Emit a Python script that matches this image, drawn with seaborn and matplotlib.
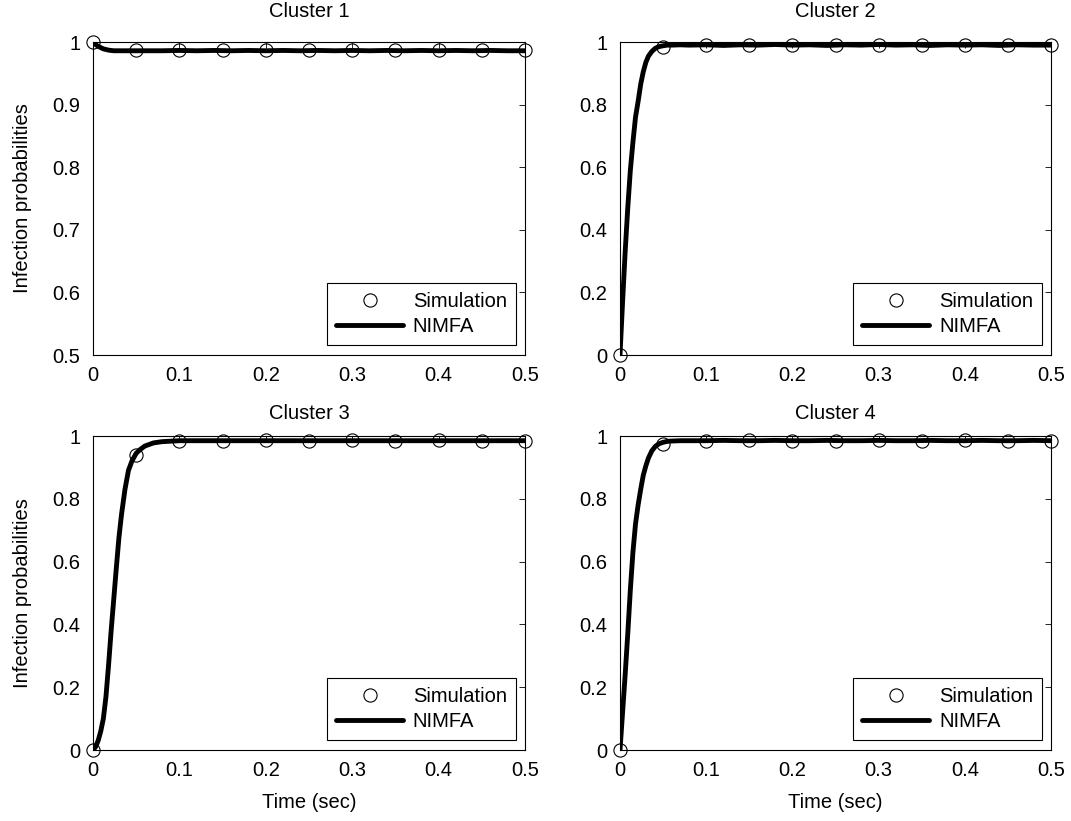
import matplotlib
matplotlib.use("Agg")
import matplotlib.pyplot as plt
import seaborn as sns
from matplotlib.ticker import FuncFormatter

# ---------------- data ----------------
TITLES = ["Cluster 1", "Cluster 2", "Cluster 3", "Cluster 4"]

T_SIM = [0.0, 0.05, 0.10, 0.15, 0.20, 0.25, 0.30, 0.35, 0.40, 0.45, 0.50]
SIM_C1 = [1.000, 0.987, 0.987, 0.988, 0.987, 0.987, 0.988, 0.987, 0.988, 0.987, 0.987]
SIM_C2 = [0.000, 0.985, 0.990, 0.991, 0.991, 0.990, 0.991, 0.990, 0.991, 0.990, 0.990]
SIM_C3 = [0.000, 0.940, 0.985, 0.985, 0.986, 0.985, 0.986, 0.985, 0.986, 0.985, 0.985]
SIM_C4 = [0.000, 0.975, 0.985, 0.986, 0.985, 0.985, 0.986, 0.985, 0.986, 0.985, 0.985]

T_NIMFA = [0.000, 0.003, 0.006, 0.009, 0.012, 0.015, 0.018, 0.021, 0.024, 0.027,
           0.030, 0.033, 0.037, 0.041, 0.045, 0.050, 0.055, 0.060, 0.070,
           0.08, 0.10, 0.12, 0.14, 0.16, 0.18, 0.20, 0.22, 0.24, 0.26, 0.28,
           0.30, 0.32, 0.34, 0.36, 0.38, 0.40, 0.42, 0.44, 0.46, 0.48, 0.50]
NIMFA_C1 = [1.000, 0.996, 0.993, 0.991, 0.989, 0.988, 0.987, 0.9865, 0.986, 0.986,
            0.986, 0.986, 0.986, 0.986, 0.986, 0.986, 0.986, 0.986, 0.986,
            0.986, 0.9865, 0.986, 0.9865, 0.986, 0.9865, 0.986, 0.9865, 0.986, 0.9865, 0.986,
            0.9865, 0.986, 0.9865, 0.986, 0.9865, 0.986, 0.9865, 0.986, 0.9865, 0.986, 0.986]
NIMFA_C2 = [0.000, 0.170, 0.330, 0.470, 0.590, 0.680, 0.760, 0.810, 0.865, 0.905,
            0.935, 0.955, 0.970, 0.980, 0.985, 0.988, 0.990, 0.990, 0.991,
            0.990, 0.991, 0.989, 0.991, 0.990, 0.992, 0.990, 0.991, 0.989, 0.991, 0.990,
            0.992, 0.990, 0.991, 0.989, 0.991, 0.990, 0.991, 0.989, 0.991, 0.990, 0.990]
NIMFA_C3 = [0.000, 0.010, 0.030, 0.060, 0.100, 0.170, 0.270, 0.380, 0.480, 0.580,
            0.676, 0.750, 0.830, 0.890, 0.920, 0.945, 0.958, 0.968, 0.978,
            0.982, 0.985, 0.985, 0.985, 0.985, 0.985, 0.985, 0.985, 0.985, 0.985, 0.985,
            0.985, 0.985, 0.985, 0.985, 0.985, 0.985, 0.985, 0.985, 0.985, 0.985, 0.985]
NIMFA_C4 = [0.000, 0.120, 0.240, 0.370, 0.510, 0.630, 0.720, 0.780, 0.830, 0.875,
            0.905, 0.930, 0.953, 0.967, 0.975, 0.980, 0.983, 0.984, 0.985,
            0.985, 0.985, 0.986, 0.985, 0.985, 0.986, 0.985, 0.985, 0.986, 0.985, 0.985,
            0.986, 0.985, 0.985, 0.986, 0.985, 0.985, 0.986, 0.985, 0.985, 0.986, 0.985]

SIMS = [SIM_C1, SIM_C2, SIM_C3, SIM_C4]
NIMFAS = [NIMFA_C1, NIMFA_C2, NIMFA_C3, NIMFA_C4]
YLIMS = [(0.5, 1.0), (0, 1), (0, 1), (0, 1)]
YTICKS = [[0.5, 0.6, 0.7, 0.8, 0.9, 1.0],
          [0, 0.2, 0.4, 0.6, 0.8, 1.0],
          [0, 0.2, 0.4, 0.6, 0.8, 1.0],
          [0, 0.2, 0.4, 0.6, 0.8, 1.0]]
XTICKS = [0, 0.1, 0.2, 0.3, 0.4, 0.5]

# ---------------- style ----------------
sns.set_style("white")
plt.rcParams["font.family"] = ["Liberation Sans", "DejaVu Sans"]
plt.rcParams["font.size"] = 14.5
plt.rcParams["text.color"] = "black"
plt.rcParams["axes.labelcolor"] = "black"

FS = 14.5
fig = plt.figure(figsize=(10.71, 8.21), dpi=100)
W, H = 1071, 821
boxes = [(93, 42, 525, 355), (620, 42, 1051, 355),
         (93, 436, 525, 750), (620, 436, 1051, 750)]

fmt = FuncFormatter(lambda v, p: f"{v:g}")

for i, (x0, y0, x1, y1) in enumerate(boxes):
    ax = fig.add_axes([x0 / W, 1 - y1 / H, (x1 - x0) / W, (y1 - y0) / H])
    sns.lineplot(x=T_SIM, y=SIMS[i], ax=ax, label="Simulation", marker="o",
                 linestyle="", markersize=9.5, markerfacecolor="none",
                 markeredgecolor="black", markeredgewidth=0.8, color="black",
                 clip_on=False, zorder=3)
    sns.lineplot(x=T_NIMFA, y=NIMFAS[i], ax=ax, label="NIMFA", color="black",
                 linewidth=3.5, zorder=2)
    ax.set_xlim(0, 0.5)
    ax.set_ylim(*YLIMS[i])
    ax.set_xticks(XTICKS)
    ax.set_yticks(YTICKS[i])
    ax.xaxis.set_major_formatter(fmt)
    ax.yaxis.set_major_formatter(fmt)
    ax.tick_params(direction="in", top=True, right=True, length=4, width=0.6,
                   labelsize=FS, colors="black")
    ax.tick_params(axis="y", pad=9)
    ax.tick_params(axis="x", pad=8)
    for s in ax.spines.values():
        s.set_color("black")
        s.set_linewidth(0.8)
    ax.set_title(TITLES[i], fontsize=FS, pad=(18 if i < 2 else 12))
    if i >= 2:
        ax.set_xlabel("Time (sec)", fontsize=FS)
        ax.xaxis.set_label_coords(0.5, -0.137)
    else:
        ax.set_xlabel("")
    if i % 2 == 0:
        ax.set_ylabel("Infection probabilities", fontsize=FS)
        ax.yaxis.set_label_coords(-0.142, 0.5)
    else:
        ax.set_ylabel("")
    leg = ax.legend(loc="lower right", bbox_to_anchor=(0.979, 0.032),
                    borderaxespad=0, frameon=True, fancybox=False,
                    edgecolor="black", framealpha=1, handlelength=3.3,
                    handletextpad=0.5, labelspacing=0.3, borderpad=0.45,
                    fontsize=FS)
    leg.get_frame().set_linewidth(0.8)

fig.savefig("out.png", dpi=100)
